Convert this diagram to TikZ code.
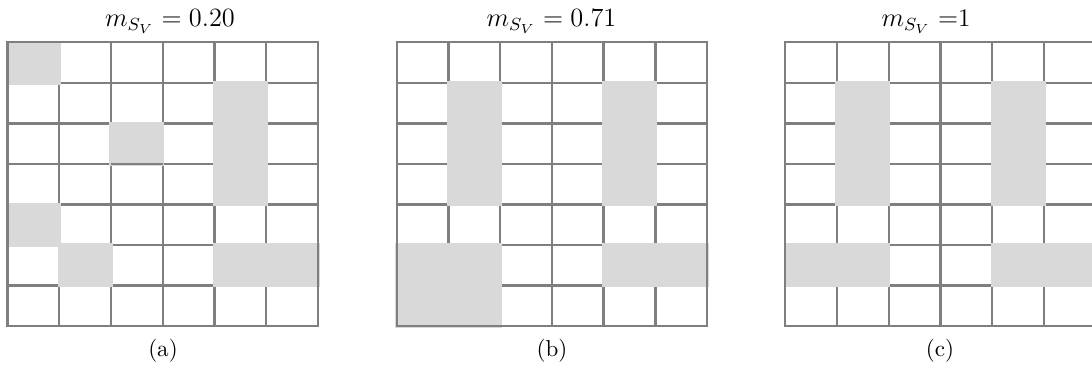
\documentclass[tikz,border=0pt]{standalone}
\usepackage{amsmath}
\usepackage{xcolor}
\usetikzlibrary{positioning}
\definecolor{gridline}{HTML}{7F7F7F}
\definecolor{cellgray}{HTML}{D9D9D9}
\tikzset{
  gridrule/.style={draw=gridline,line width=1.05pt},
  shadecell/.style={fill=cellgray,draw=cellgray,line width=1.5pt},
  paneltitle/.style={anchor=base,inner sep=0pt,font=\fontsize{11.5}{13}\selectfont},
  panelcap/.style={anchor=base,inner sep=0pt,font=\fontsize{10.5}{12}\selectfont}
}

\begin{document}
\begin{tikzpicture}[x=0.016cm,y=-0.016cm]
\useasboundingbox (0,0) rectangle (1092,377);
\clip (0,0) rectangle (1092,377);
% three 6x7 grids, shaded cells given as column/row
\foreach \px/\cells in {7.5/{1/1,3/3,5/2,5/3,5/4,1/5,2/6,5/6,6/6},
    396.7/{2/2,2/3,2/4,5/2,5/3,5/4,1/6,2/6,1/7,2/7,5/6,6/6},
    785.3/{2/2,2/3,2/4,5/2,5/3,5/4,1/6,2/6,5/6,6/6}}{
  \begin{scope}[shift={(\px,42.3)},x=0.828cm,y=-0.6491cm]
    \foreach \i in {1,...,5} \draw[gridrule] (\i,0) -- (\i,7);
    \foreach \j in {1,...,6} \draw[gridrule] (0,\j) -- (6,\j);
    \foreach \c/\r in \cells \filldraw[shadecell] (\c-1,\r-1) rectangle (\c,\r);
  \end{scope}
}
\begin{scope}[shift={(7.5,42.3)},x=0.828cm,y=-0.6491cm]
  \draw[gridrule] (2,3) -- (3,3);
\end{scope}
\foreach \px in {7.5,396.7,785.3}
  \draw[gridrule] (\px,42.3) rectangle ++(310.5,283.7);
% titles and captions
\node[paneltitle] (ta) at (170,26.7) {$m_{S_V} = 0.20$};
\node[paneltitle] (tb) at (551.5,26.7) {$m_{S_V} = 0.71$};
\node[paneltitle] (tc) at (926,26.7) {$m_{S_V} =$1};
\node[panelcap] (ca) at (163,356.5) {(a)};
\node[panelcap] (cb) at (552,356.5) {(b)};
\node[panelcap] (cc) at (940,356.5) {(c)};
\end{tikzpicture}
\end{document}
